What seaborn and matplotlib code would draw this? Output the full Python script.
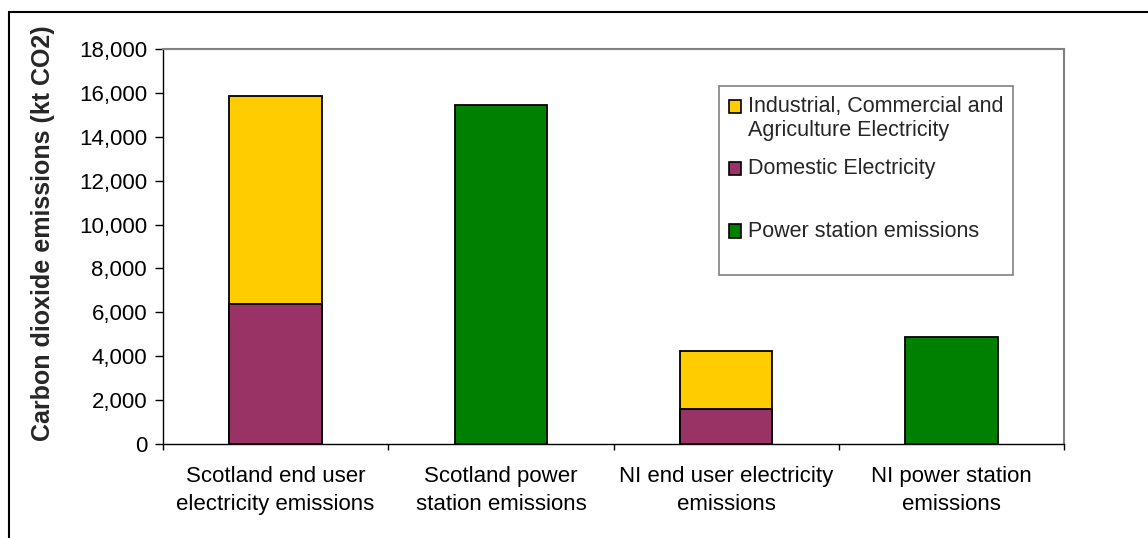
import matplotlib
matplotlib.use("Agg")
import matplotlib.pyplot as plt
import seaborn as sns
from matplotlib.patches import Patch, Rectangle
from matplotlib.legend_handler import HandlerPatch
from matplotlib.ticker import FuncFormatter, FixedLocator

# ---- data ----
categories = ["Scotland end user\nelectricity emissions",
              "Scotland power\nstation emissions",
              "NI end user electricity\nemissions",
              "NI power station\nemissions"]
enduser_categories = [categories[0], categories[2]]
domestic = [6400, 1600]
industrial = [9440, 2660]
power_categories = [categories[1], categories[3]]
power_station = [15470, 4870]
series_labels = ["Industrial, Commercial and\nAgriculture Electricity",
                 "Domestic Electricity",
                 "Power station emissions"]
yticks = list(range(0, 18001, 2000))

YELLOW = "#FFCC00"
PURPLE = "#993366"
GREEN = "#008000"

sns.set_style("white")
plt.rcParams['font.family'] = ['Liberation Sans', 'DejaVu Sans']
FS = 16
LFS = 15.5
W, H = 1148, 538

fig = plt.figure(figsize=(W / 100, H / 100), dpi=100)
ax = fig.add_axes([163 / W, 1 - 444 / H, (1064 - 163) / W, (444 - 49) / H])

bar_kw = dict(order=categories, saturation=1, width=0.41, edgecolor='black',
              linewidth=1.3, errorbar=None, ax=ax)
total = [d + i for d, i in zip(domestic, industrial)]
sns.barplot(x=enduser_categories, y=total, color=YELLOW, **bar_kw)
sns.barplot(x=enduser_categories, y=domestic, color=PURPLE, **bar_kw)
sns.barplot(x=power_categories, y=power_station, color=GREEN, **bar_kw)

ax.set_xlim(-0.5, 3.5)
ax.set_ylim(0, 18000)
ax.yaxis.set_major_locator(FixedLocator(yticks))
ax.yaxis.set_major_formatter(FuncFormatter(lambda v, p: f"{int(v):,}"))
ax.xaxis.set_minor_locator(FixedLocator([-0.5, 0.5, 1.5, 2.5, 3.5]))
ax.set_xlabel("")

ax.tick_params(axis='y', which='major', left=True, direction='out', length=5.5,
               width=1, color='black', pad=6, labelsize=FS, labelcolor='black')
ax.tick_params(axis='x', which='major', bottom=True, length=0, pad=16,
               labelsize=FS, labelcolor='black')
ax.tick_params(axis='x', which='minor', bottom=True, direction='out', length=4.5,
               width=1, color='black')
for lbl in ax.get_xticklabels():
    lbl.set_linespacing(1.42)

for s in ['left', 'bottom']:
    ax.spines[s].set_color('black')
    ax.spines[s].set_linewidth(1.0)
for s in ['top', 'right']:
    ax.spines[s].set_color('#808080')
    ax.spines[s].set_linewidth(1.5)

ax.set_ylabel("Carbon dioxide emissions (kt CO2)", fontsize=18, fontweight='bold')
ax.yaxis.set_label_coords(-0.12, 0.533)


class ShiftedHandler(HandlerPatch):
    def __init__(self, shift, **kw):
        super().__init__(**kw)
        self.shift = shift

    def create_artists(self, legend, orig_handle, xdescent, ydescent, width,
                       height, fontsize, trans):
        p = Rectangle(xy=(-xdescent, -ydescent + self.shift), width=width, height=height)
        self.update_prop(p, orig_handle, legend)
        p.set_transform(trans)
        return [p]


handles = [Patch(facecolor=YELLOW, edgecolor='black', linewidth=1.2),
           Patch(facecolor=PURPLE, edgecolor='black', linewidth=1.2),
           Patch(facecolor=GREEN, edgecolor='black', linewidth=1.2)]
leg_labels = [series_labels[0], series_labels[1] + "\n ", series_labels[2] + "\n "]
leg = ax.legend(handles, leg_labels, loc='upper left',
                bbox_to_anchor=(719 / W, 1 - 86 / H), bbox_transform=fig.transFigure,
                borderaxespad=0, borderpad=0.45, handlelength=0.56, handleheight=0.56,
                handletextpad=0.33, labelspacing=0.8, fontsize=LFS, frameon=True,
                fancybox=False, edgecolor='#808080', framealpha=1,
                handler_map={Patch: ShiftedHandler(9)})
leg.get_frame().set_linewidth(1.2)

fig.add_artist(Rectangle((9 / W, -0.05), 1.1, (1 - 12 / H) + 0.05,
                         transform=fig.transFigure, fill=False, edgecolor='black',
                         linewidth=1.5, clip_on=False))

fig.savefig("out.png", dpi=100)
